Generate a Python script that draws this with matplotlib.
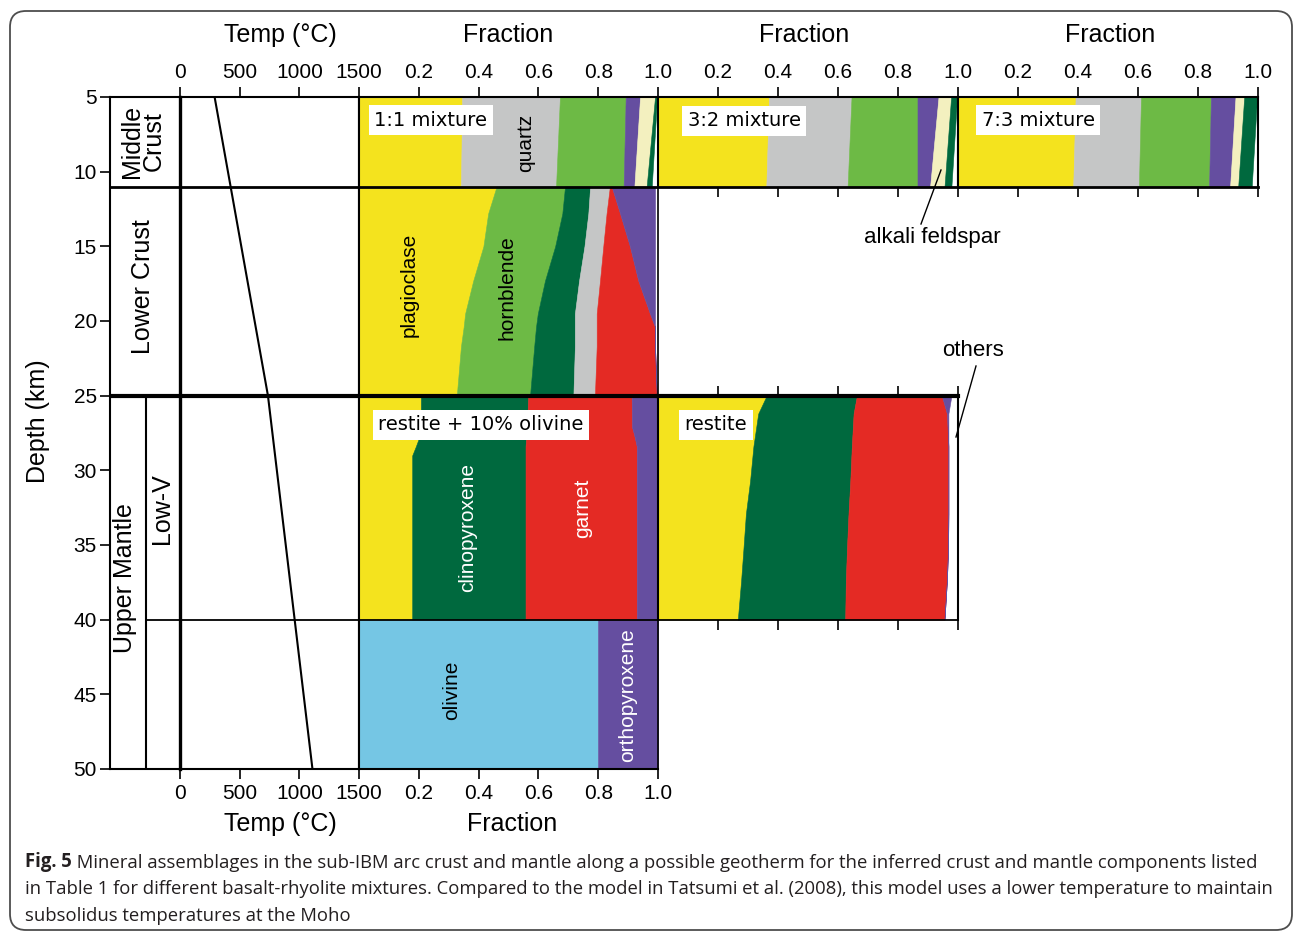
import matplotlib
matplotlib.use('Agg')
import matplotlib.pyplot as plt
from matplotlib.patches import FancyBboxPatch

plt.rcParams['font.family'] = ['Liberation Sans', 'DejaVu Sans']

W, H = 1298, 936

# mineral colours
YEL = '#f4e31e'   # plagioclase
QTZ = '#c5c6c6'   # quartz
HBL = '#6dba45'   # hornblende
CPX = '#00693e'   # clinopyroxene
GRT = '#e42a24'   # garnet
OPX = '#654ea0'   # orthopyroxene
KFS = '#f3f0bf'   # alkali feldspar
OL = '#75c6e4'    # olivine

# axes ticks
temp_ticks = [0, 500, 1000, 1500]
frac_ticks = [0.2, 0.4, 0.6, 0.8, 1.0]
frac_labels = ['0.2', '0.4', '0.6', '0.8', '1.0']
depth_ticks = [5, 10, 15, 20, 25, 30, 35, 40, 45, 50]

# geotherm
geo_depth = [5, 25, 50]
geo_temp = [290, 737, 1110]

# middle crust, cumulative fractions at depth 5 and 11 km
mc_depth = [5, 11]
mc_colors = [YEL, QTZ, HBL, OPX, KFS, CPX]
mix_11 = [[0.345, 0.341], [0.672, 0.659], [0.892, 0.885], [0.940, 0.921], [0.990, 0.962], [0.997, 0.979]]
mix_32 = [[0.370, 0.361], [0.645, 0.632], [0.865, 0.865], [0.935, 0.907], [0.977, 0.955], [0.997, 0.978]]
mix_73 = [[0.392, 0.384], [0.610, 0.603], [0.843, 0.837], [0.925, 0.907], [0.954, 0.934], [0.997, 0.979]]

# lower crust (1:1 mixture)
lc_depth = [11, 12.8, 15, 17.3, 19.5, 20.4, 21.7, 25]
lc_colors = [YEL, HBL, CPX, QTZ, GRT, OPX]
lc_frac = [
    [0.460, 0.432, 0.416, 0.382, 0.355, 0.350, 0.341, 0.327],
    [0.689, 0.680, 0.656, 0.622, 0.598, 0.592, 0.586, 0.572],
    [0.773, 0.767, 0.754, 0.736, 0.722, 0.722, 0.722, 0.717],
    [0.839, 0.828, 0.817, 0.806, 0.795, 0.795, 0.795, 0.789],
    [0.845, 0.873, 0.906, 0.934, 0.973, 0.990, 0.990, 0.996],
    [0.990, 0.990, 0.990, 0.990, 0.990, 0.990, 0.990, 0.996],
]

# low-V mantle, restite + 10% olivine
um1_depth = [25, 27.1, 27.6, 28.4, 29.0, 40]
um_colors = [YEL, CPX, GRT, OPX]
um1_frac = [
    [0.207, 0.207, 0.205, 0.190, 0.178, 0.178],
    [0.566, 0.562, 0.560, 0.557, 0.557, 0.557],
    [0.912, 0.913, 0.920, 0.929, 0.929, 0.929],
    [0.996, 0.996, 0.996, 0.996, 0.996, 0.996],
]

# low-V mantle, restite
um2_depth = [25, 26.2, 28.4, 30.7, 32.9, 35.2, 37.4, 40]
um2_frac = [
    [0.362, 0.334, 0.318, 0.307, 0.293, 0.285, 0.277, 0.266],
    [0.663, 0.652, 0.646, 0.641, 0.635, 0.630, 0.626, 0.624],
    [0.946, 0.963, 0.968, 0.968, 0.968, 0.967, 0.963, 0.955],
    [0.978, 0.968, 0.968, 0.968, 0.968, 0.967, 0.963, 0.955],
]

# deep mantle
dm_depth = [40, 50]
dm_colors = [OL, OPX]
dm_frac = [[0.8, 0.8], [1.0, 1.0]]


def rect(x0, y0, x1, y1):
    return [x0 / W, 1 - y1 / H, (x1 - x0) / W, (y1 - y0) / H]


def stack(ax, depth, fracs, colors):
    left = [0] * len(depth)
    for right, c in zip(fracs, colors):
        ax.fill_betweenx(depth, left, right, color=c, lw=0.4, ec=c)
        left = right


def frame(ax, lw=1.5):
    for s in ax.spines.values():
        s.set_linewidth(lw)
        s.set_color('black')
    ax.tick_params(direction='out', length=7, width=1.2, labelsize=15, pad=3.5)


fig = plt.figure(figsize=(W / 100, H / 100), dpi=100)

# label column with depth axis
ax_lab = fig.add_axes(rect(110, 97, 180, 769))
ax_lab.set_xlim(0, 1)
ax_lab.set_ylim(50, 5)
frame(ax_lab)
ax_lab.spines['right'].set_visible(False)
ax_lab.set_xticks([])
ax_lab.set_yticks(depth_ticks)
ax_lab.tick_params(axis='y', pad=2.5)
ax_lab.axhline(11, color='black', lw=2)
ax_lab.axhline(25, color='black', lw=3)
ax_lab.plot([36 / 70, 1], [40, 40], color='black', lw=1.3)
ax_lab.plot([36 / 70, 36 / 70], [25, 50], color='black', lw=1.5)

# temperature panel
ax_t = fig.add_axes(rect(180, 97, 359, 769))
ax_t.set_xlim(0, 1500)
ax_t.set_ylim(50, 5)
frame(ax_t)
ax_t.spines['left'].set_linewidth(2.4)
ax_t.set_yticks([])
ax_t.set_xticks(temp_ticks)
ax_t.tick_params(top=True, labeltop=True)
ax_t.axhline(11, color='black', lw=2)
ax_t.axhline(25, color='black', lw=3)
ax_t.axhline(40, color='black', lw=1.3)
ax_t.plot(geo_temp, geo_depth, color='black', lw=1.5)

# fraction panel, 1:1 mixture column
ax_f1 = fig.add_axes(rect(359, 97, 658, 769))
ax_f1.set_xlim(0, 1)
ax_f1.set_ylim(50, 5)
stack(ax_f1, mc_depth, mix_11, mc_colors)
stack(ax_f1, lc_depth, lc_frac, lc_colors)
stack(ax_f1, um1_depth, um1_frac, um_colors)
stack(ax_f1, dm_depth, dm_frac, dm_colors)
frame(ax_f1)
ax_f1.spines['right'].set_linewidth(1.2)
ax_f1.set_yticks([])
ax_f1.set_xticks(frac_ticks)
ax_f1.set_xticklabels(frac_labels)
ax_f1.tick_params(top=True, labeltop=True)
ax_f1.axhline(11, color='black', lw=2)
ax_f1.axhline(25, color='black', lw=3)
ax_f1.axhline(40, color='black', lw=1.3)

# 3:2 mixture, middle crust
ax_f2a = fig.add_axes(rect(658, 97, 958, 186.6))
ax_f2a.set_xlim(0, 1)
ax_f2a.set_ylim(11, 5)
stack(ax_f2a, mc_depth, mix_32, mc_colors)
frame(ax_f2a)
ax_f2a.spines['bottom'].set_linewidth(2)
ax_f2a.set_yticks([])
ax_f2a.set_xticks(frac_ticks)
ax_f2a.set_xticklabels(frac_labels)
ax_f2a.tick_params(top=True, labeltop=True, labelbottom=False)

# restite, low-V mantle
ax_f2b = fig.add_axes(rect(658, 395.7, 958, 619.6))
ax_f2b.set_xlim(0, 1)
ax_f2b.set_ylim(40, 25)
stack(ax_f2b, um2_depth, um2_frac, um_colors)
frame(ax_f2b)
ax_f2b.spines['top'].set_linewidth(3)
ax_f2b.spines['bottom'].set_linewidth(1.3)
ax_f2b.set_yticks([])
ax_f2b.set_xticks(frac_ticks)
ax_f2b.tick_params(top=True, labeltop=False, labelbottom=False)

# 7:3 mixture, middle crust
ax_f3 = fig.add_axes(rect(958, 97, 1258, 186.6))
ax_f3.set_xlim(0, 1)
ax_f3.set_ylim(11, 5)
stack(ax_f3, mc_depth, mix_73, mc_colors)
frame(ax_f3)
ax_f3.spines['bottom'].set_linewidth(2)
ax_f3.set_yticks([])
ax_f3.set_xticks(frac_ticks)
ax_f3.set_xticklabels(frac_labels)
ax_f3.tick_params(top=True, labeltop=True, labelbottom=False)

# overlay in pixel coordinates for texts
ov = fig.add_axes([0, 0, 1, 1], zorder=10)
ov.set_xlim(0, W)
ov.set_ylim(H, 0)
ov.axis('off')
ov.patch.set_visible(False)

ov.add_patch(FancyBboxPatch((10, 11), 1282, 919, boxstyle='round,pad=0,rounding_size=16',
                            fc='none', ec='#4d4d4d', lw=1.3))

big = dict(fontsize=18, ha='center', va='center')
ov.text(280, 35, 'Temp (°C)', **big)
ov.text(508, 35, 'Fraction', **big)
ov.text(804, 35, 'Fraction', **big)
ov.text(1110, 35, 'Fraction', **big)
ov.text(280, 824, 'Temp (°C)', **big)
ov.text(512, 824, 'Fraction', **big)
ov.text(38, 421, 'Depth (km)', rotation=90, **big)
ov.text(143, 141, 'Middle\nCrust', rotation=90, linespacing=0.85, **big)
ov.text(143, 287, 'Lower Crust', rotation=90, **big)
ov.text(125, 578, 'Upper Mantle', rotation=90, **big)
ov.text(162, 509, 'Low-V', rotation=90, **big)

lab = dict(fontsize=15, ha='center', va='center', rotation=90)
ov.text(526, 143, 'quartz', **lab)
ov.text(409, 285, 'plagioclase', **lab)
ov.text(507, 288, 'hornblende', **lab)
ov.text(468, 528, 'clinopyroxene', color='white', **lab)
ov.text(583, 508, 'garnet', color='white', **lab)
ov.text(452, 690, 'olivine', **lab)
ov.text(628, 695, 'orthopyroxene', color='white', **lab)

box = dict(fontsize=14, ha='center', va='center', family='DejaVu Sans',
           bbox=dict(fc='white', ec='none', pad=4))
ov.text(431, 120, '1:1 mixture', **box)
ov.text(744, 121, '3:2 mixture', **box)
ov.text(1038, 120, '7:3 mixture', **box)
ov.text(481, 425, 'restite + 10% olivine', **box)
ov.text(716, 425, 'restite', **box)

ov.text(932, 237, 'alkali feldspar', fontsize=16, ha='center', va='center')
ov.plot([921, 941], [224, 170], color='black', lw=1)
ov.text(973, 351, 'others', fontsize=16, ha='center', va='center')
ov.plot([976, 956], [366, 437], color='black', lw=1)

# caption
cs = 13.35
cap = dict(fontsize=cs, family=['Open Sans', 'DejaVu Sans'], color='#231f20', va='center')
t1 = ov.text(25, 862, 'Fig. 5', weight='bold', **cap)
ov.annotate(' Mineral assemblages in the sub-IBM arc crust and mantle along a possible geotherm '
            'for the inferred crust and mantle components listed',
            xy=(1, 0), xycoords=t1, va='bottom', fontsize=cs,
            family=['Open Sans', 'DejaVu Sans'], color='#231f20')
ov.text(25, 889, 'in Table 1 for different basalt-rhyolite mixtures. Compared to the model in '
        'Tatsumi et al. (2008), this model uses a lower temperature to maintain', **cap)
ov.text(25, 916, 'subsolidus temperatures at the Moho', **cap)

fig.savefig('out.png', dpi=100)
